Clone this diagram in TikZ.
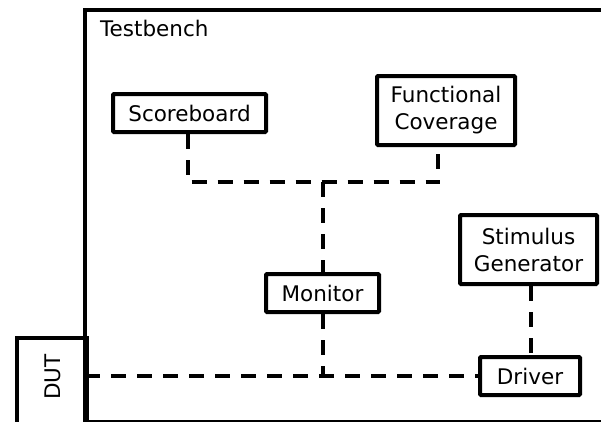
\documentclass[tikz,border=0pt]{standalone}
\usepackage{fontspec}
\setmainfont{DejaVu Sans}
\newcommand{\labelsize}{\fontsize{21.5}{27}\selectfont}
\begin{document}
\begin{tikzpicture}[x=1pt,y=-1pt,
  box/.style={draw,line width=4pt,rounded corners=1pt,inner sep=0pt,align=center,
    font=\labelsize},
  link/.style={line width=4pt,dash pattern=on 15pt off 11pt}]
\useasboundingbox (0,0) rectangle (601,421);
\begin{scope}
\clip (0,0) rectangle (601,421);
% testbench frame, running past the right and bottom edges
\draw[line width=4pt] (85,9.5) rectangle (640,422);
% device under test
\node[box,rounded corners=0pt,minimum width=70pt,minimum height=100pt,anchor=north west] (dut) at (15,335.5) {};
\end{scope}
\node[anchor=base west,inner sep=0pt] (tb) at (100,36) {\labelsize Testbench};
\node[rotate=90,inner sep=0pt] (dutlabel) at (53,377) {\labelsize DUT};
% testbench components
\node[box,minimum width=153pt,minimum height=38pt] (sb) at (189.5,113) {Scoreboard};
\node[box,minimum width=138pt,minimum height=69pt] (fc) at (446,110.5) {Functional\\Coverage};
\node[box,minimum width=113pt,minimum height=38pt] (mon) at (322.5,293) {Monitor};
\node[box,minimum width=137pt,minimum height=69pt] (stim) at (528.5,249.5) {Stimulus\\Generator};
\node[box,minimum width=100pt,minimum height=38pt] (drv) at (530,376) {Driver};
% junction points
\coordinate (top) at (322.5,182);
\coordinate (bus) at (322.5,376);
% connections
\draw[link] ([xshift=-2pt]sb.south) -- ++(0,48) -| ([xshift=-8pt]fc.south);
\draw[link] (top) -- (mon.north);
\draw[link] (mon.south) -- (bus);
\draw[link] (85,376) -- (drv.west);
\draw[link] ([xshift=2.5pt]stim.south) -- ([xshift=1pt]drv.north);
\end{tikzpicture}
\end{document}
